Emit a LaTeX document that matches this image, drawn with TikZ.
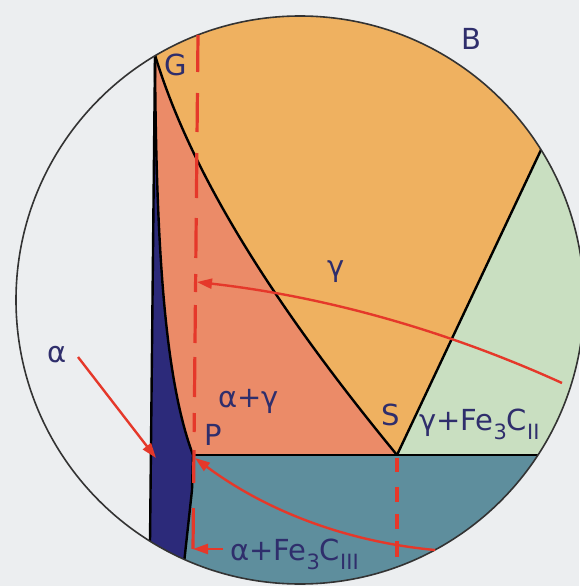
\documentclass[tikz,border=0pt]{standalone}
\usepackage{fontspec}
\setmainfont{DejaVu Sans}
\usetikzlibrary{arrows.meta}
\definecolor{bgc}{HTML}{ECEEF0}
\definecolor{gam}{HTML}{EFB160}
\definecolor{ag}{HTML}{EB8B68}
\definecolor{gfe}{HTML}{C9DFC1}
\definecolor{teal}{HTML}{5E8E9D}
\definecolor{alf}{HTML}{2C2A7A}
\definecolor{redc}{HTML}{E5382A}
\definecolor{navy}{HTML}{2F2E6C}
\newcommand\mysub[1]{\raisebox{-0.34em}{\fontsize{21}{21}\selectfont #1}}
\begin{document}
\begin{tikzpicture}[x=1pt,y=-1pt,
  lbl/.style={text=navy, font=\fontsize{29}{34}\selectfont, inner sep=0pt, anchor=base west},
  bound/.style={black, line width=2.4pt, line join=round},
  redarrow/.style={redc, line width=2.4pt, -{Triangle[length=15pt,width=10pt]}},
  reddash/.style={redc, line width=3.2pt}]
\useasboundingbox (0,0) rectangle (579,586);
\fill[bgc] (0,0) rectangle (579,586);
\coordinate (O) at (300,300);
\coordinate (G) at (155,55);
\coordinate (P) at (193,455);
\coordinate (S) at (397,455);
\coordinate (E) at (540,152);
\coordinate (K) at (640,455);
\coordinate (Ftop) at (155.6,0);
\coordinate (Fbot) at (149.4,600);
\begin{scope}
  \clip (O) circle[radius=284pt];
  % gamma (everything right of Fe axis)
  \fill[gam] (Ftop) -- (700,0) -- (700,700) -- (Fbot) -- cycle;
  % gamma + Fe3C II
  \fill[gfe] (S) -- (568.6,91.4) -- (700,91) -- (700,455) -- cycle;
  % bottom region
  \fill[teal] (150,455) -- (700,455) -- (700,700) -- (150,700) -- cycle;
  % alpha + gamma
  \fill[ag] (G) .. controls (156,250) and (165,380) .. (P) -- (S)
     .. controls (290,325) and (194,185) .. (G) -- cycle;
  % alpha
  \fill[alf] (G) -- (Fbot) -- (180,600) -- (192,490) -- (P)
     .. controls (165,380) and (156,250) .. (G) -- cycle;
  % boundaries
  \draw[bound] (Ftop) -- (Fbot);
  \draw[bound] (G) .. controls (156,250) and (165,380) .. (P) -- (192,490) -- (180,600);
  \draw[bound] (G) .. controls (194,185) and (290,325) .. (S);
  \draw[bound] (S) -- (568.6,91.4);
  \draw[bound, line width=2pt] (P) -- (K);
\end{scope}
\draw[black!80, line width=1.6pt] (O) circle[radius=284pt];
% dashed verticals
\foreach \a/\b in {35/72,93/132,153/198,218/258,274/292,305/343,357/397,413/432,450/483,508/549}{
  \draw[reddash] ({198-5*(\a-35)/514},\a) -- ({198-5*(\b-35)/514},\b);
}
\foreach \a/\b in {458/472,487/502,514/529,541/557}{
  \draw[reddash] (397,\a) -- (397,\b);
}
% labels
\node[lbl] (lG) at (164,75) {G};
\node[lbl] (lB) at (461,49) {B};
\node[lbl] (lgam) at (327,276) {γ};
\node[lbl] (lag) at (218,407) {α+γ};
\node[lbl] (lP) at (204,445) {P};
\node[lbl] (lS) at (381,425) {S};
\node[lbl] (lgfe) at (419,430) {γ+Fe\mysub{3}C\mysub{II}};
\node[lbl] (lal) at (47,362) {α};
\node[lbl] (lafe) at (230,560) {α+Fe\mysub{3}C\mysub{III}};
% arrows
\coordinate (a1s) at (562,383);
\coordinate (a1e) at (197,282);
\draw[redarrow] (a1s) .. controls (445.7,330.1) and (324,296.4) .. (a1e);
\coordinate (a2s) at (435,550);
\coordinate (a2e) at (195,458);
\draw[redarrow] (a2s) .. controls (346.4,541.7) and (266.4,511.1) .. (a2e);
\coordinate (a3s) at (78,357);
\coordinate (a3e) at (156,458);
\draw[redarrow] (a3s) -- (a3e);
\coordinate (a4s) at (223,549);
\coordinate (a4e) at (193,549);
\draw[redarrow] (a4s) -- (a4e);
\end{tikzpicture}
\end{document}
